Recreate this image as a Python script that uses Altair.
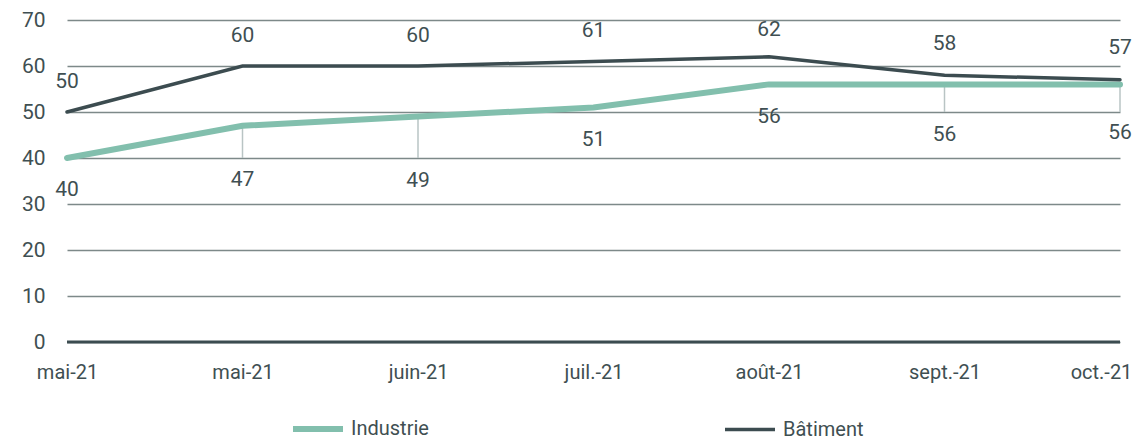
import altair as alt
import pandas as pd

months = ["mai-21", "mai-21", "juin-21", "juil.-21", "août-21", "sept.-21", "oct.-21"]
industrie = [40, 47, 49, 51, 56, 56, 56]
batiment = [50, 60, 60, 61, 62, 58, 57]
# label anchor heights (data units) for value labels
ind_label_y = [33, 35.2, 35, 43.9, 48.9, 45, 45.4]
bat_label_y = [56.5, 66.5, 66.5, 67.6, 67.8, 64.8, 63.9]
# leader line end (data units), None = no leader line
ind_leader_end = [None, 40, 40, None, None, 50, 50]

C_IND = "#82bfad"
C_BAT = "#3c4c50"
C_TXT = "#3f4f52"
FONT = "Roboto"

rows = []
for i, m in enumerate(months):
    rows.append({"i": i, "serie": "Industrie", "v": industrie[i], "ly": ind_label_y[i]})
    rows.append({"i": i, "serie": "Bâtiment", "v": batiment[i], "ly": bat_label_y[i]})
df = pd.DataFrame(rows)

lead = pd.DataFrame([
    {"i": i, "v": industrie[i], "e": e} for i, e in enumerate(ind_leader_end) if e is not None
])

label_arr = "[" + ",".join("'" + m + "'" for m in months) + "]"
last = len(months) - 1

x_enc = alt.X("i:Q", scale=alt.Scale(domain=[0, last], nice=False, zero=False),
              axis=alt.Axis(values=list(range(len(months))), labelExpr=label_arr + "[datum.value]",
                            title=None, domain=False, ticks=False, grid=False,
                            labelFontSize=20, labelColor=C_TXT, labelFont=FONT, labelPadding=20,
                            labelFlush=False,
                            labelOffset={"condition": {"test": f"datum.value == {last}", "value": -19}, "value": 0}))
y_scale = alt.Scale(domain=[0, 70], nice=False)
y_enc = alt.Y("v:Q", scale=y_scale,
              axis=alt.Axis(values=list(range(0, 80, 10)), title=None, domain=False, ticks=False,
                            grid=True, gridColor="#7d8989", gridWidth=1.5,
                            labelFontSize=21, labelColor=C_TXT, labelFont=FONT, labelPadding=22))

color = alt.Color("serie:N", scale=alt.Scale(domain=["Industrie", "Bâtiment"], range=[C_IND, C_BAT]),
                  legend=alt.Legend(title=None, orient="none", legendX=223, legendY=381,
                                    direction="horizontal", columns=2, columnPadding=289,
                                    symbolType="stroke", symbolStrokeWidth=5, symbolSize=2500,
                                    labelFontSize=20, labelColor=C_TXT, labelFont=FONT,
                                    labelOffset=5))

base = alt.Chart(df)

lines = base.mark_line(strokeCap="round").encode(
    x=x_enc, y=y_enc, color=color,
    strokeWidth=alt.StrokeWidth("serie:N", scale=alt.Scale(domain=["Industrie", "Bâtiment"], range=[6, 3.5]), legend=None),
    order=alt.Order("i:Q"),
)

zero = alt.Chart(pd.DataFrame({"v": [0]})).mark_rule(color=C_BAT, strokeWidth=3).encode(
    y=alt.Y("v:Q", scale=y_scale), x=alt.value(0), x2=alt.value(1053))

leaders = alt.Chart(lead).mark_rule(color="#b9c4c4", strokeWidth=1.5).encode(
    x=alt.X("i:Q"), y=alt.Y("v:Q", scale=y_scale), y2="e:Q")

labels = base.mark_text(fontSize=21, font=FONT, color=C_TXT, baseline="middle", align="center").encode(
    x=alt.X("i:Q"), y=alt.Y("ly:Q", scale=y_scale), text=alt.Text("v:Q"))

chart = alt.layer(zero, leaders, lines, labels).properties(
    width=1053, height=322,
    autosize=alt.AutoSizeParams(type="none"),
    padding={"left": 67, "top": 20, "right": 17, "bottom": 98},
    background="white",
).configure_view(stroke=None)

chart.save("out.html", embed_options={"renderer": "svg", "actions": False})
